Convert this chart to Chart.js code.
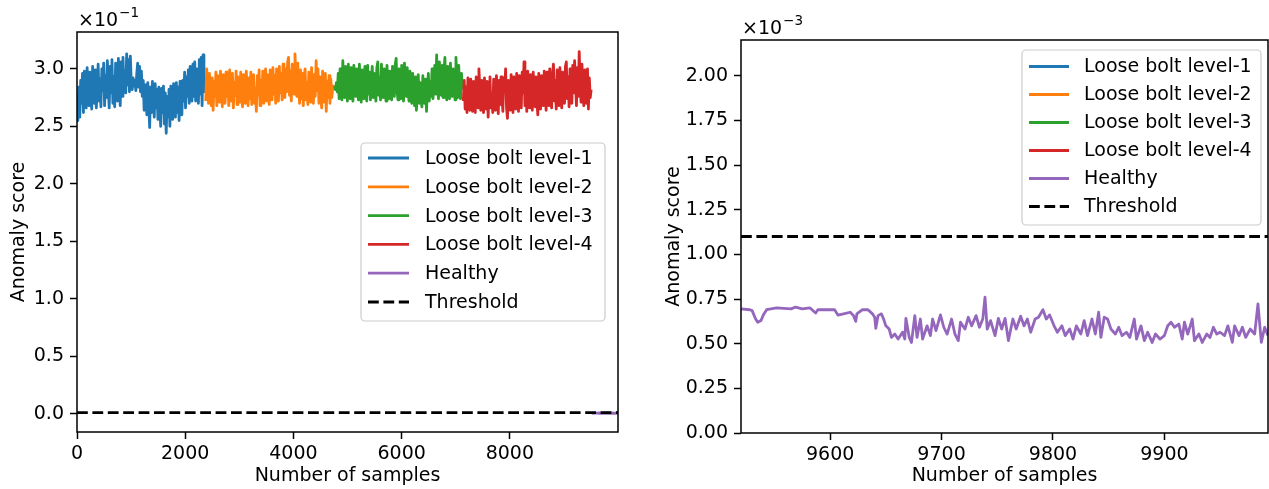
<!DOCTYPE html>
<html>
<head>
<meta charset="utf-8">
<script src="https://cdn.jsdelivr.net/npm/chart.js@4.4.0/dist/chart.umd.min.js"></script>
<style>
  body { margin: 0; background: #fff; width: 1269px; height: 489px; overflow: hidden; position: relative; }
  canvas { position: absolute; top: 0; }
</style>
</head>
<body>
<canvas id="left" width="640" height="489" style="left:0"></canvas>
<canvas id="right" width="629" height="489" style="left:640px"></canvas>
<script>
// series names and colours (matplotlib tab10)
var SERIES_NAMES = ['Loose bolt level-1', 'Loose bolt level-2', 'Loose bolt level-3', 'Loose bolt level-4', 'Healthy', 'Threshold'];
var SERIES_COLORS = ['#1f77b4', '#ff7f0e', '#2ca02c', '#d62728', '#9467bd', '#000000'];

var SEGMENT_STARTS = [0, 2380, 4760, 7140];
var SAMPLE_STEP = 17;

var level1 = [0.255, 0.262, 0.284, 0.258, 0.290, 0.270, 0.296, 0.262,
  0.298, 0.276, 0.266, 0.301, 0.284, 0.268, 0.297, 0.279,
  0.265, 0.302, 0.288, 0.270, 0.299, 0.266, 0.283, 0.304,
  0.272, 0.291, 0.267, 0.300, 0.281, 0.305, 0.268, 0.294,
  0.275, 0.307, 0.286, 0.266, 0.302, 0.279, 0.308, 0.270,
  0.293, 0.267, 0.305, 0.284, 0.272, 0.309, 0.288, 0.268,
  0.306, 0.276, 0.310, 0.283, 0.298, 0.279, 0.313, 0.286,
  0.308, 0.280, 0.311, 0.288, 0.282, 0.292, 0.285, 0.290,
  0.281, 0.296, 0.305, 0.284, 0.302, 0.280, 0.298, 0.276,
  0.290, 0.264, 0.286, 0.272, 0.260, 0.288, 0.270, 0.249,
  0.284, 0.262, 0.289, 0.275, 0.258, 0.287, 0.266, 0.282,
  0.256, 0.284, 0.268, 0.250, 0.283, 0.262, 0.285, 0.252,
  0.279, 0.244, 0.276, 0.258, 0.282, 0.250, 0.285, 0.266,
  0.256, 0.287, 0.270, 0.258, 0.288, 0.262, 0.284, 0.255,
  0.289, 0.268, 0.260, 0.290, 0.272, 0.297, 0.266, 0.293,
  0.276, 0.299, 0.270, 0.302, 0.281, 0.272, 0.304, 0.276,
  0.306, 0.272, 0.300, 0.285, 0.270, 0.308, 0.278, 0.310,
  0.268, 0.312, 0.282, 0.279];
var level2 = [0.272, 0.300, 0.284, 0.270, 0.296, 0.278, 0.268, 0.292,
  0.264, 0.289, 0.276, 0.297, 0.268, 0.294, 0.282, 0.271,
  0.298, 0.279, 0.267, 0.295, 0.285, 0.270, 0.297, 0.276,
  0.290, 0.268, 0.299, 0.281, 0.272, 0.296, 0.266, 0.288,
  0.277, 0.298, 0.269, 0.293, 0.283, 0.271, 0.297, 0.275,
  0.267, 0.295, 0.280, 0.270, 0.298, 0.284, 0.268, 0.292,
  0.274, 0.297, 0.269, 0.287, 0.295, 0.270, 0.283, 0.263,
  0.294, 0.278, 0.299, 0.268, 0.290, 0.276, 0.298, 0.270,
  0.286, 0.300, 0.272, 0.295, 0.281, 0.269, 0.299, 0.285,
  0.273, 0.301, 0.278, 0.294, 0.270, 0.300, 0.284, 0.272,
  0.302, 0.279, 0.296, 0.273, 0.304, 0.286, 0.275, 0.300,
  0.280, 0.306, 0.310, 0.277, 0.298, 0.272, 0.304, 0.285,
  0.278, 0.313, 0.290, 0.276, 0.305, 0.282, 0.270, 0.299,
  0.274, 0.296, 0.268, 0.291, 0.300, 0.273, 0.288, 0.269,
  0.297, 0.279, 0.271, 0.301, 0.284, 0.270, 0.295, 0.276,
  0.307, 0.281, 0.300, 0.270, 0.293, 0.276, 0.266, 0.298,
  0.280, 0.271, 0.296, 0.263, 0.289, 0.275, 0.294, 0.270,
  0.291, 0.275, 0.283, 0.286];
var level3 = [0.285, 0.282, 0.288, 0.280, 0.296, 0.274, 0.300, 0.283,
  0.273, 0.307, 0.285, 0.275, 0.302, 0.280, 0.272, 0.304,
  0.288, 0.274, 0.301, 0.279, 0.272, 0.303, 0.286, 0.276,
  0.300, 0.282, 0.273, 0.304, 0.287, 0.271, 0.299, 0.281,
  0.274, 0.302, 0.285, 0.272, 0.303, 0.278, 0.297, 0.273,
  0.289, 0.302, 0.275, 0.296, 0.282, 0.272, 0.301, 0.306,
  0.277, 0.292, 0.273, 0.304, 0.284, 0.275, 0.300, 0.279,
  0.272, 0.303, 0.287, 0.274, 0.298, 0.281, 0.273, 0.302,
  0.285, 0.276, 0.304, 0.309, 0.280, 0.273, 0.300, 0.286,
  0.274, 0.303, 0.281, 0.272, 0.305, 0.284, 0.276, 0.301,
  0.279, 0.272, 0.298, 0.283, 0.270, 0.296, 0.277, 0.268,
  0.293, 0.264, 0.281, 0.295, 0.270, 0.288, 0.275, 0.267,
  0.294, 0.279, 0.270, 0.291, 0.263, 0.284, 0.296, 0.272,
  0.289, 0.276, 0.300, 0.274, 0.285, 0.303, 0.278, 0.312,
  0.283, 0.274, 0.306, 0.288, 0.277, 0.303, 0.275, 0.298,
  0.310, 0.279, 0.273, 0.302, 0.286, 0.274, 0.305, 0.281,
  0.276, 0.300, 0.284, 0.273, 0.310, 0.288, 0.275, 0.303,
  0.280, 0.274, 0.296, 0.282];
var level4 = [0.272, 0.290, 0.265, 0.284, 0.262, 0.292, 0.276, 0.264,
  0.291, 0.270, 0.263, 0.289, 0.279, 0.262, 0.293, 0.272,
  0.266, 0.300, 0.281, 0.264, 0.290, 0.268, 0.262, 0.292,
  0.275, 0.265, 0.289, 0.258, 0.283, 0.293, 0.266, 0.278,
  0.262, 0.291, 0.271, 0.264, 0.294, 0.280, 0.261, 0.290,
  0.269, 0.293, 0.276, 0.263, 0.292, 0.283, 0.300, 0.266,
  0.257, 0.290, 0.274, 0.264, 0.295, 0.280, 0.262, 0.293,
  0.271, 0.265, 0.296, 0.282, 0.263, 0.294, 0.276, 0.266,
  0.297, 0.279, 0.306, 0.268, 0.289, 0.263, 0.298, 0.283,
  0.266, 0.295, 0.274, 0.264, 0.297, 0.281, 0.267, 0.293,
  0.272, 0.260, 0.296, 0.280, 0.265, 0.294, 0.275, 0.268,
  0.298, 0.282, 0.264, 0.297, 0.277, 0.268, 0.300, 0.285,
  0.266, 0.295, 0.304, 0.272, 0.290, 0.265, 0.299, 0.283,
  0.268, 0.301, 0.278, 0.266, 0.297, 0.286, 0.270, 0.302,
  0.306, 0.274, 0.293, 0.267, 0.300, 0.284, 0.270, 0.303,
  0.279, 0.307, 0.287, 0.268, 0.301, 0.276, 0.315, 0.288,
  0.271, 0.304, 0.282, 0.268, 0.299, 0.276, 0.270, 0.300,
  0.265, 0.292, 0.275, 0.282];

// healthy series (score in units of 1e-3)
var HEALTHY_UNIT = 1e-3;
var healthyX = [9520, 9528, 9530, 9533, 9535, 9538, 9540, 9543, 9552, 9565, 9569, 9575, 9582, 9587, 9589, 9599, 9604, 9607, 9612, 9618,
  9621, 9623, 9624, 9629, 9634, 9638, 9640, 9641, 9643, 9646, 9648, 9650, 9653, 9655, 9658, 9661, 9665, 9667, 9668, 9671,
  9673, 9676, 9678, 9681, 9683, 9687, 9690, 9692, 9695, 9699, 9702, 9705, 9709, 9712, 9715, 9717, 9721, 9724, 9727, 9731,
  9734, 9737, 9739, 9741, 9744, 9748, 9751, 9754, 9757, 9760, 9764, 9767, 9771, 9774, 9777, 9780, 9784, 9787, 9791, 9794,
  9797, 9801, 9804, 9808, 9811, 9815, 9818, 9821, 9825, 9828, 9831, 9835, 9838, 9841, 9843, 9846, 9849, 9852, 9856, 9859,
  9862, 9866, 9869, 9873, 9875, 9879, 9882, 9885, 9889, 9892, 9896, 9900, 9903, 9906, 9909, 9913, 9916, 9918, 9921, 9925,
  9927, 9931, 9934, 9938, 9941, 9944, 9947, 9950, 9954, 9957, 9961, 9963, 9967, 9970, 9973, 9977, 9981, 9984, 9987, 9990, 9993];
var healthyScore = [0.695, 0.690, 0.685, 0.640, 0.620, 0.630, 0.660, 0.690, 0.700, 0.695, 0.705, 0.695, 0.700, 0.672, 0.690, 0.690, 0.690, 0.660, 0.667, 0.676,
  0.657, 0.625, 0.667, 0.690, 0.690, 0.667, 0.648, 0.586, 0.657, 0.667, 0.638, 0.600, 0.582, 0.535, 0.554, 0.526, 0.564, 0.526, 0.642, 0.535,
  0.507, 0.657, 0.535, 0.638, 0.526, 0.600, 0.545, 0.638, 0.573, 0.661, 0.592, 0.554, 0.638, 0.554, 0.517, 0.620, 0.582, 0.648, 0.600, 0.657,
  0.592, 0.638, 0.760, 0.582, 0.629, 0.545, 0.642, 0.582, 0.642, 0.517, 0.638, 0.582, 0.654, 0.600, 0.638, 0.564, 0.638, 0.648, 0.690, 0.638,
  0.661, 0.600, 0.564, 0.600, 0.545, 0.582, 0.526, 0.600, 0.554, 0.629, 0.545, 0.638, 0.554, 0.676, 0.535, 0.648, 0.638, 0.582, 0.554, 0.592,
  0.545, 0.564, 0.535, 0.638, 0.526, 0.600, 0.517, 0.564, 0.507, 0.554, 0.526, 0.545, 0.600, 0.620, 0.592, 0.610, 0.526, 0.620, 0.554, 0.638,
  0.517, 0.554, 0.507, 0.554, 0.535, 0.592, 0.554, 0.564, 0.545, 0.600, 0.507, 0.600, 0.545, 0.592, 0.535, 0.582, 0.554, 0.723, 0.507, 0.592, 0.545];

var THRESHOLD = 0.0011;

// ticks
var leftXTicks = [0, 2000, 4000, 6000, 8000];
var leftYTicks = [0, 0.05, 0.1, 0.15, 0.2, 0.25, 0.3];
var leftYLabels = ['0.0', '0.5', '1.0', '1.5', '2.0', '2.5', '3.0'];
var rightXTicks = [9600, 9700, 9800, 9900];
var rightYTicks = [0, 0.00025, 0.0005, 0.00075, 0.001, 0.00125, 0.0015, 0.00175, 0.002];
var rightYLabels = ['0.00', '0.25', '0.50', '0.75', '1.00', '1.25', '1.50', '1.75', '2.00'];

Chart.defaults.font.family = 'DejaVu Sans';
Chart.defaults.font.size = 19;
Chart.defaults.color = '#000';

// frame round the plot area (matplotlib spines)
var framePlugin = {
  id: 'frame',
  afterDatasetsDraw: function (chart) {
    var a = chart.chartArea, ctx = chart.ctx;
    ctx.save();
    ctx.strokeStyle = '#000';
    ctx.lineWidth = 1.5;
    ctx.strokeRect(a.left, a.top, a.right - a.left, a.bottom - a.top);
    ctx.restore();
  }
};

// legend box drawn inside the axes
var boxLegendPlugin = {
  id: 'boxLegend',
  afterDraw: function (chart, args, o) {
    var ctx = chart.ctx;
    ctx.save();
    ctx.beginPath();
    ctx.roundRect(o.x, o.y, o.w, o.h, 4);
    ctx.fillStyle = 'rgba(255,255,255,0.8)';
    ctx.fill();
    ctx.strokeStyle = '#cccccc';
    ctx.lineWidth = 1.2;
    ctx.stroke();
    ctx.font = '19px "DejaVu Sans"';
    ctx.textBaseline = 'middle';
    chart.data.datasets.forEach(function (ds, i) {
      var y = o.row0 + i * o.step;
      ctx.beginPath();
      ctx.setLineDash(ds.borderDash || []);
      ctx.strokeStyle = ds.borderColor;
      ctx.lineWidth = 2.8;
      ctx.moveTo(o.hx0, y);
      ctx.lineTo(o.hx1, y);
      ctx.stroke();
      ctx.setLineDash([]);
      ctx.fillStyle = '#000';
      ctx.fillText(ds.label, o.tx, y + 1);
    });
    ctx.restore();
  }
};

// "x10^n" offset text above the y axis
var offsetTextPlugin = {
  id: 'offsetText',
  afterDraw: function (chart, args, o) {
    var a = chart.chartArea, ctx = chart.ctx;
    var base = a.top - 6;
    ctx.save();
    ctx.fillStyle = '#000';
    ctx.textBaseline = 'alphabetic';
    ctx.font = '19px "DejaVu Sans"';
    ctx.fillText('\u00d710', a.left + 1, base);
    var w = ctx.measureText('\u00d710').width;
    ctx.font = '13.5px "DejaVu Sans"';
    ctx.fillText(o.exp, a.left + 1 + w + 1, base - 9);
    ctx.restore();
  }
};

function makePanel(canvasId, p) {
  var datasets = [];
  [level1, level2, level3, level4].forEach(function (vals, k) {
    datasets.push({
      label: SERIES_NAMES[k],
      data: vals.map(function (v, i) { return { x: SEGMENT_STARTS[k] + i * SAMPLE_STEP, y: v }; }),
      borderColor: SERIES_COLORS[k],
      order: 5 - k
    });
  });
  datasets.push({
    label: SERIES_NAMES[4],
    data: healthyX.map(function (x, i) { return { x: x, y: healthyScore[i] * HEALTHY_UNIT }; }),
    borderColor: SERIES_COLORS[4],
    order: 1
  });
  datasets.push({
    label: SERIES_NAMES[5],
    data: [{ x: p.xMin, y: THRESHOLD }, { x: p.xMax, y: THRESHOLD }],
    borderColor: SERIES_COLORS[5],
    borderDash: [10.8, 4.6],
    order: 0
  });
  datasets.forEach(function (d) { d.clip = 0; });

  var tickGrid = { display: true, drawOnChartArea: false, drawTicks: true, tickLength: 7, tickWidth: 1.5, tickColor: '#000' };

  return new Chart(document.getElementById(canvasId), {
    type: 'line',
    data: { datasets: datasets },
    options: {
      responsive: false,
      animation: false,
      devicePixelRatio: 1,
      layout: { padding: p.padding },
      elements: {
        point: { radius: 0 },
        line: { borderWidth: 2.8, tension: 0, fill: false, borderJoinStyle: 'round' }
      },
      plugins: {
        legend: { display: false },
        tooltip: { enabled: false },
        boxLegend: p.legend,
        offsetText: { exp: p.exp }
      },
      scales: {
        x: {
          type: 'linear',
          min: p.xMin,
          max: p.xMax,
          afterBuildTicks: function (axis) { axis.ticks = p.xTicks.map(function (v) { return { value: v }; }); },
          afterFit: function (s) { s.height = p.xAxisHeight; },
          grid: tickGrid,
          border: { display: false },
          ticks: { color: '#000', padding: 4, maxRotation: 0, autoSkip: false, callback: function (v) { return String(v); } },
          title: { display: true, text: 'Number of samples', color: '#000', padding: { top: 0, bottom: 2 } }
        },
        y: {
          type: 'linear',
          min: p.yMin,
          max: p.yMax,
          afterBuildTicks: function (axis) { axis.ticks = p.yTicks.map(function (v) { return { value: v }; }); },
          afterFit: function (s) { s.width = p.yAxisWidth; },
          grid: tickGrid,
          border: { display: false },
          ticks: { color: '#000', padding: 6, autoSkip: false, callback: function (v) { return p.yLabels[p.yTicks.indexOf(v)]; } },
          title: { display: true, text: 'Anomaly score', color: '#000', padding: { top: p.yTitlePad, bottom: 0 } }
        }
      }
    },
    plugins: [framePlugin, boxLegendPlugin, offsetTextPlugin]
  });
}

makePanel('left', {
  xMin: 0, xMax: 9999, yMin: -0.0157, yMax: 0.332,
  xTicks: leftXTicks, yTicks: leftYTicks, yLabels: leftYLabels,
  padding: { left: 0, right: 22, top: 32, bottom: 0 },
  xAxisHeight: 57, yAxisWidth: 77, yTitlePad: 8,
  exp: '\u22121',
  legend: { x: 361, y: 143, w: 244, h: 178, row0: 158, step: 28.8, hx0: 368, hx1: 409, tx: 425 }
});

makePanel('right', {
  xMin: 9520, xMax: 9993, yMin: 0, yMax: 0.0022,
  xTicks: rightXTicks, yTicks: rightYTicks, yLabels: rightYLabels,
  padding: { left: 0, right: 1, top: 40, bottom: 0 },
  xAxisHeight: 56, yAxisWidth: 101, yTitlePad: 23,
  exp: '\u22123',
  legend: { x: 382, y: 50, w: 239, h: 175, row0: 66.5, step: 28.0, hx0: 389, hx1: 429, tx: 444 }
});
</script>
</body>
</html>
